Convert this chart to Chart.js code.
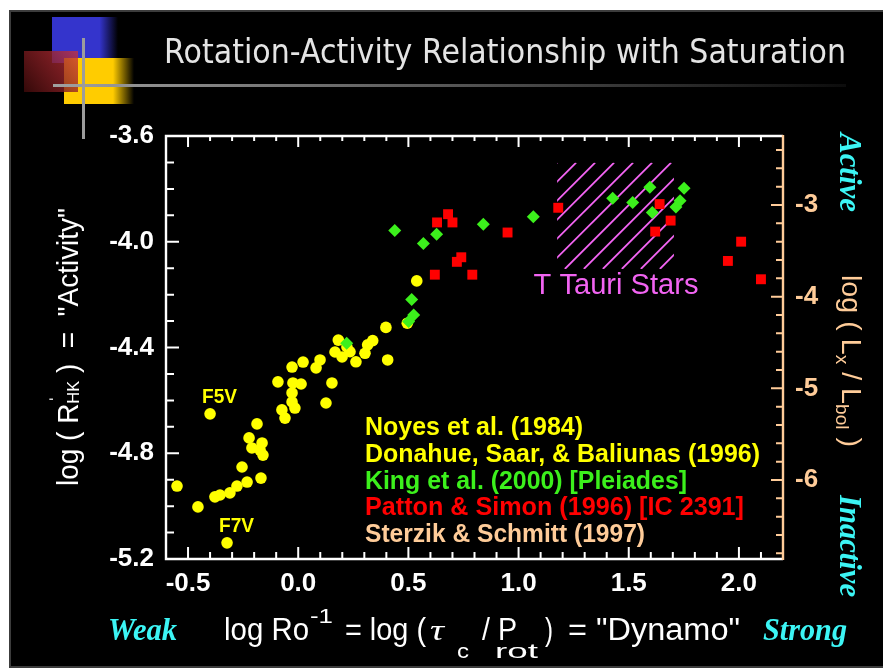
<!DOCTYPE html>
<html>
<head>
<meta charset="utf-8">
<title>Rotation-Activity Relationship with Saturation</title>
<script src="https://cdn.jsdelivr.net/npm/chart.js@4/dist/chart.umd.min.js"></script>
<style>
  html, body { margin: 0; padding: 0; background: #ffffff; overflow: hidden; }
  canvas { display: block; }
</style>
</head>
<body>
<canvas id="chart" width="883" height="669"></canvas>
<script>
// ---------------- data ----------------
// Noyes et al. (1984) + Donahue, Saar & Baliunas (1996): log Ro^-1 vs log R'HK
const fieldStarsLogInvRo = [0.538, 0.398, 0.495, 0.182, 0.167, 0.199, 0.221, 0.338, 0.315, 0.303,
  0.262, 0.406, 0.235, 0.022, 0.099, 0.081, -0.028, -0.092, -0.024, 0.013,
  -0.028, -0.028, -0.015, -0.074, -0.060, 0.153, 0.126, -0.400, -0.187, -0.223,
  -0.210, -0.164, -0.160, -0.173, -0.255, -0.169, -0.232, -0.278, -0.310, -0.355,
  -0.378, -0.550, -0.455, -0.323];
const fieldStarsLogRHK = [-4.148, -4.324, -4.308, -4.372, -4.417, -4.436, -4.398, -4.374, -4.390, -4.422,
  -4.454, -4.447, -4.416, -4.455, -4.447, -4.477, -4.474, -4.530, -4.534, -4.538,
  -4.572, -4.606, -4.629, -4.636, -4.667, -4.534, -4.610, -4.651, -4.689, -4.742,
  -4.780, -4.761, -4.807, -4.788, -4.852, -4.894, -4.909, -4.924, -4.950, -4.958,
  -4.965, -4.924, -5.003, -5.139];

// King et al. (2000), Pleiades
const pleiadesLogInvRo = [0.438, 0.628, 0.568, 0.840, 1.067, 1.427, 1.518, 1.596, 1.607, 1.751,
  1.733, 1.714, 0.515, 0.524, 0.501, 0.220];
const pleiadesLogRHK = [-3.957, -3.972, -4.007, -3.934, -3.905, -3.835, -3.852, -3.794, -3.889, -3.798,
  -3.845, -3.869, -4.218, -4.277, -4.302, -4.384];

// Patton & Simon (1996), IC 2391: log Ro^-1 vs log (Lx / Lbol)
const ic2391LogInvRo = [0.68, 0.63, 0.70, 0.95, 0.74, 0.72, 0.62, 0.79, 1.18, 1.64, 1.69, 1.62, 2.01, 1.95, 2.10];
const ic2391LogLxLbol = [-3.10, -3.19, -3.19, -3.30, -3.57, -3.62, -3.76, -3.76, -3.03, -2.99, -3.17, -3.29, -3.40, -3.61, -3.81];

// spectral-type tags on two of the field stars
const spectralTypeLabels = ['F5V', 'F7V'];
const spectralTypeStarIndex = [27, 43];

// T Tauri region (log Ro^-1, log R'HK)
const tTauriLogInvRo = [1.175, 1.705];
const tTauriLogRHK = [-4.103, -3.701];

// axis ticks
const dynamoTicks = [-0.5, 0.0, 0.5, 1.0, 1.5, 2.0];
const activityTicks = [-5.2, -4.8, -4.4, -4.0, -3.6];
const xrayTicks = [-6, -5, -4, -3];

const legendLabels = [
  'Noyes et al. (1984)',
  'Donahue, Saar, & Baliunas (1996)',
  'King et al. (2000) [Pleiades]',
  'Patton & Simon (1996) [IC 2391]',
  'Sterzik & Schmitt (1997)'
];

// ---------------- styles ----------------
const YELLOW = '#ffff00';
const GREEN = '#3cf01c';
const RED = '#ff0000';
const PEACH = '#ffcc99';
const MAGENTA = '#f264f2';
const CYAN = '#3cf5f5';
const SANS = '"Liberation Sans", Arial, Helvetica, sans-serif';
const SERIF = '"Liberation Serif", "Times New Roman", serif';
const legendColors = [YELLOW, YELLOW, GREEN, RED, PEACH];
const legendWidths = [218, 395, 322, 379, 280];

const toPoints = (xs, ys) => xs.map((v, i) => ({ x: v, y: ys[i] }));

// draw text squeezed/stretched horizontally to a given width
function fitText(ctx, text, x, y, width) {
  const w = ctx.measureText(text).width;
  ctx.save();
  ctx.translate(x, y);
  ctx.scale(width / w, 1);
  ctx.fillText(text, 0, 0);
  ctx.restore();
}

// draw a run of differently-sized pieces (sub/superscripts) fitted to a total width
function drawRuns(ctx, runs, totalWidth) {
  let total = 0;
  for (const r of runs) {
    ctx.font = r.font;
    r.w = ctx.measureText(r.t).width;
    if (r.adv !== false) total += r.w;
  }
  ctx.save();
  ctx.scale(totalWidth / total, 1);
  let x = 0;
  for (const r of runs) {
    ctx.font = r.font;
    ctx.fillText(r.t, x + (r.dx || 0), r.dy || 0);
    if (r.adv !== false) x += r.w;
  }
  ctx.restore();
}

// slide background: border, coloured squares, rules
const slideBackground = {
  id: 'slideBackground',
  beforeDraw(chart) {
    const ctx = chart.ctx;
    ctx.save();
    ctx.fillStyle = '#ffffff';
    ctx.fillRect(0, 0, 883, 669);
    ctx.fillStyle = '#3c3c3c';
    ctx.fillRect(9, 10, 874, 658);
    ctx.fillStyle = '#000000';
    ctx.fillRect(11, 12, 872, 654);

    let g = ctx.createLinearGradient(52, 0, 118, 0);
    g.addColorStop(0, '#3434cc'); g.addColorStop(0.72, '#3434cc'); g.addColorStop(1, '#000000');
    ctx.fillStyle = g;
    ctx.fillRect(52, 17, 66, 46);

    g = ctx.createLinearGradient(64, 0, 134, 0);
    g.addColorStop(0, '#ffcc00'); g.addColorStop(0.7, '#ffcc00'); g.addColorStop(1, '#000000');
    ctx.fillStyle = g;
    ctx.fillRect(64, 58, 70, 46);

    g = ctx.createLinearGradient(78, 51, 24, 92);
    g.addColorStop(0, 'rgba(205,50,60,0.75)'); g.addColorStop(1, 'rgba(60,10,10,0.85)');
    ctx.fillStyle = g;
    ctx.fillRect(24, 51, 54, 41);

    g = ctx.createLinearGradient(53, 0, 846, 0);
    g.addColorStop(0, '#a0a0a0'); g.addColorStop(1, '#0c0c0c');
    ctx.fillStyle = g;
    ctx.fillRect(53, 84, 793, 3);
    ctx.fillStyle = '#9c9c9c';
    ctx.fillRect(82, 38, 3, 101);
    ctx.restore();
  }
};

// hatched T Tauri box, under the data points
const tTauriHatch = {
  id: 'tTauriHatch',
  beforeDatasetsDraw(chart) {
    const ctx = chart.ctx;
    const { x, y } = chart.scales;
    const x0 = x.getPixelForValue(tTauriLogInvRo[0]);
    const x1 = x.getPixelForValue(tTauriLogInvRo[1]);
    const y0 = y.getPixelForValue(tTauriLogRHK[1]);
    const y1 = y.getPixelForValue(tTauriLogRHK[0]);
    ctx.save();
    ctx.beginPath();
    ctx.rect(x0, y0, x1 - x0, y1 - y0);
    ctx.clip();
    ctx.strokeStyle = MAGENTA;
    ctx.lineWidth = 1.8;
    ctx.beginPath();
    const step = 19;
    for (let c = x0 + y0; c < x1 + y1 + step; c += step) {
      ctx.moveTo(c - y1, y1);
      ctx.lineTo(c - y0, y0);
    }
    ctx.stroke();
    ctx.restore();
  }
};

// plot frame with inward tick marks on all four sides
const plotFrame = {
  id: 'plotFrame',
  afterDatasetsDraw(chart) {
    const ctx = chart.ctx;
    const { left, right, top, bottom } = chart.chartArea;
    const sx = chart.scales.x, sy = chart.scales.y, sy2 = chart.scales.y2;
    ctx.save();
    ctx.lineWidth = 2.4;
    ctx.lineCap = 'butt';
    ctx.strokeStyle = '#ffffff';
    ctx.beginPath();
    ctx.moveTo(right, top); ctx.lineTo(left, top); ctx.lineTo(left, bottom); ctx.lineTo(right, bottom);
    ctx.stroke();

    ctx.lineWidth = 2;
    ctx.beginPath();
    for (let i = -6; i <= 22; i++) {
      const px = sx.getPixelForValue(i / 10);
      const major = i % 5 === 0;
      ctx.moveTo(px, bottom); ctx.lineTo(px, bottom - (major ? 12 : 7));
      ctx.moveTo(px, top); ctx.lineTo(px, top + (major ? 11 : 5));
    }
    for (let i = -52; i <= -36; i++) {
      const py = sy.getPixelForValue(i / 10);
      const major = (i + 36) % 4 === 0;
      ctx.moveTo(left, py); ctx.lineTo(left + (major ? 13 : 8), py);
    }
    ctx.stroke();

    ctx.strokeStyle = PEACH;
    ctx.lineWidth = 2.4;
    ctx.beginPath();
    ctx.moveTo(right, top - 1); ctx.lineTo(right, bottom + 1);
    ctx.stroke();
    ctx.lineWidth = 2;
    ctx.beginPath();
    for (let i = -34; i <= -12; i++) {
      const v = i / 5;
      if (v < sy2.min || v > sy2.max) continue;
      const py = sy2.getPixelForValue(v);
      const major = i % 5 === 0;
      ctx.moveTo(right, py); ctx.lineTo(right - (major ? 12 : 7), py);
    }
    ctx.stroke();
    ctx.restore();
  }
};

// titles, axis captions, legend text and annotations
const slideText = {
  id: 'slideText',
  afterDraw(chart) {
    const ctx = chart.ctx;
    const sx = chart.scales.x, sy = chart.scales.y;
    ctx.save();
    ctx.textAlign = 'left';
    ctx.textBaseline = 'alphabetic';

    // slide title
    ctx.fillStyle = '#e4e4e4';
    ctx.font = '34px "DejaVu Sans", Verdana, sans-serif';
    fitText(ctx, 'Rotation-Activity Relationship with Saturation', 164, 63, 682);

    // left axis caption
    ctx.fillStyle = '#ffffff';
    ctx.save();
    ctx.translate(78, 486);
    ctx.rotate(-Math.PI / 2);
    drawRuns(ctx, [
      { t: 'log ( R', font: '29px ' + SANS },
      { t: '\u02C8', font: '22px ' + SANS, dy: -12, dx: 1, adv: false },
      { t: 'HK', font: '17px ' + SANS, dy: 1 },
      { t: ' )  =  "Activity"', font: '29px ' + SANS }
    ], 278);
    ctx.restore();

    // bottom axis caption
    ctx.font = '31px ' + SANS;
    fitText(ctx, 'log Ro', 224, 640, 85);
    ctx.font = '21px ' + SANS;
    fitText(ctx, '-1', 310, 623, 23);
    ctx.font = '31px ' + SANS;
    fitText(ctx, '= log (', 345, 640, 81);
    ctx.font = 'italic 30px ' + SERIF;
    fitText(ctx, '\u03C4', 430, 640, 14);
    ctx.font = '21px ' + SANS;
    fitText(ctx, 'c', 457, 658, 12);
    ctx.font = '31px ' + SANS;
    fitText(ctx, '/ P', 482, 640, 35);
    ctx.font = '21px ' + SANS;
    fitText(ctx, 'rot', 495, 658, 43);
    ctx.font = '31px ' + SANS;
    fitText(ctx, ')', 545, 640, 8);
    fitText(ctx, '= "Dynamo"', 568, 640, 172);

    // right axis caption
    ctx.fillStyle = PEACH;
    ctx.save();
    ctx.translate(842, 275);
    ctx.rotate(Math.PI / 2);
    drawRuns(ctx, [
      { t: 'log ( L', font: '27px ' + SANS },
      { t: 'x', font: '18px ' + SANS, dy: 6 },
      { t: ' / L', font: '27px ' + SANS },
      { t: 'bol', font: '18px ' + SANS, dy: 6 },
      { t: ' )', font: '27px ' + SANS }
    ], 172);
    ctx.restore();

    // scale ends
    ctx.fillStyle = CYAN;
    ctx.font = 'italic bold 31px ' + SERIF;
    fitText(ctx, 'Weak', 108, 640, 69);
    fitText(ctx, 'Strong', 763, 640, 84);
    ctx.save();
    ctx.translate(840, 133);
    ctx.rotate(Math.PI / 2);
    fitText(ctx, 'Active', 0, 0, 79);
    ctx.restore();
    ctx.save();
    ctx.translate(840, 495);
    ctx.rotate(Math.PI / 2);
    fitText(ctx, 'Inactive', 0, 0, 102);
    ctx.restore();

    // legend lines
    ctx.font = 'bold 25px ' + SANS;
    legendLabels.forEach((label, i) => {
      ctx.fillStyle = legendColors[i];
      fitText(ctx, label, 365, 435 + i * 26.75, legendWidths[i]);
    });

    // T Tauri label under the hatched box
    ctx.fillStyle = MAGENTA;
    ctx.font = '29px ' + SANS;
    const cx = (sx.getPixelForValue(tTauriLogInvRo[0]) + sx.getPixelForValue(tTauriLogInvRo[1])) / 2;
    const by = sy.getPixelForValue(tTauriLogRHK[0]);
    fitText(ctx, 'T Tauri Stars', cx - 82, by + 25, 165);

    // spectral-type tags
    ctx.fillStyle = YELLOW;
    ctx.font = 'bold 20px ' + SANS;
    spectralTypeLabels.forEach((label, i) => {
      const k = spectralTypeStarIndex[i];
      const px = sx.getPixelForValue(fieldStarsLogInvRo[k]);
      const py = sy.getPixelForValue(fieldStarsLogRHK[k]);
      fitText(ctx, label, px - 8, py - 11, 35);
    });
    ctx.restore();
  }
};

const tickFont = { family: SANS, size: 26, weight: 'bold' };

new Chart(document.getElementById('chart'), {
  type: 'scatter',
  data: {
    datasets: [
      {
        label: legendLabels[2],
        data: toPoints(pleiadesLogInvRo, pleiadesLogRHK),
        yAxisID: 'y',
        pointStyle: 'rectRot',
        pointRadius: 6.5,
        backgroundColor: GREEN,
        borderWidth: 0,
        order: 1
      },
      {
        label: legendLabels[3],
        data: toPoints(ic2391LogInvRo, ic2391LogLxLbol),
        yAxisID: 'y2',
        pointStyle: 'rect',
        pointRadius: 7,
        backgroundColor: RED,
        borderWidth: 0,
        order: 2
      },
      {
        label: legendLabels[0] + ' / ' + legendLabels[1],
        data: toPoints(fieldStarsLogInvRo, fieldStarsLogRHK),
        yAxisID: 'y',
        pointStyle: 'circle',
        pointRadius: 5.8,
        backgroundColor: YELLOW,
        borderWidth: 0,
        order: 3
      }
    ]
  },
  options: {
    responsive: false,
    animation: false,
    devicePixelRatio: 1,
    events: [],
    layout: { padding: { top: 136, left: 0, right: 0, bottom: 0 } },
    plugins: {
      legend: { display: false },
      title: { display: false },
      tooltip: { enabled: false }
    },
    scales: {
      x: {
        type: 'linear',
        position: 'bottom',
        min: -0.6,
        max: 2.2,
        grid: { display: false, drawTicks: false },
        border: { display: false },
        afterBuildTicks: s => { s.ticks = dynamoTicks.map(v => ({ value: v })); },
        afterFit: s => { s.height = 110; },
        ticks: {
          autoSkip: false, maxRotation: 0, padding: 9,
          color: '#ffffff', font: tickFont,
          callback: v => Number(v).toFixed(1)
        }
      },
      y: {
        type: 'linear',
        position: 'left',
        min: -5.2,
        max: -3.6,
        grid: { display: false, drawTicks: false },
        border: { display: false },
        afterBuildTicks: s => { s.ticks = activityTicks.map(v => ({ value: v })); },
        afterFit: s => { s.width = 166; },
        ticks: {
          autoSkip: false, padding: 12,
          color: '#ffffff', font: tickFont,
          callback: v => Number(v).toFixed(1)
        }
      },
      y2: {
        type: 'linear',
        position: 'right',
        min: -6.862,
        max: -2.247,
        grid: { display: false, drawTicks: false },
        border: { display: false },
        afterBuildTicks: s => { s.ticks = xrayTicks.map(v => ({ value: v })); },
        afterFit: s => { s.width = 100; },
        ticks: {
          autoSkip: false, padding: 12,
          color: PEACH, font: tickFont,
          callback: v => String(v)
        }
      }
    }
  },
  plugins: [slideBackground, tTauriHatch, plotFrame, slideText]
});
</script>
</body>
</html>
